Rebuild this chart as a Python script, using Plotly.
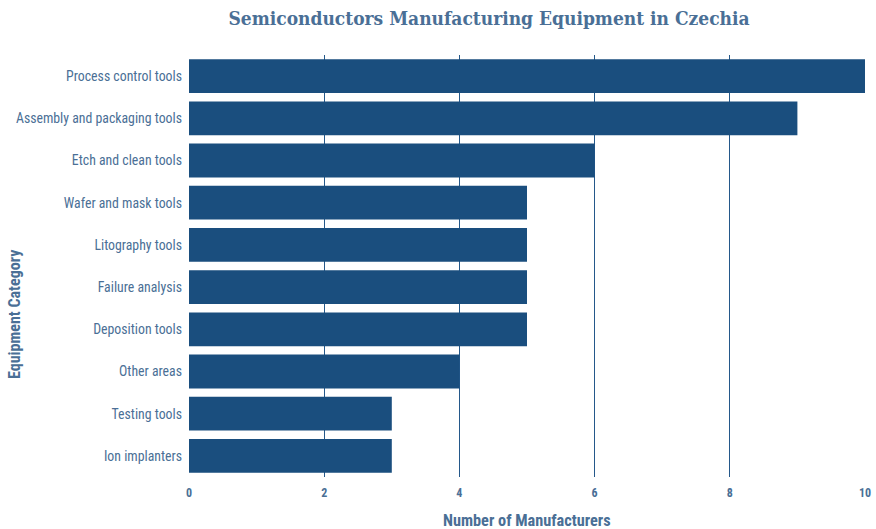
import plotly.graph_objects as go

categories = ["Process control tools", "Assembly and packaging tools", "Etch and clean tools",
              "Wafer and mask tools", "Litography tools", "Failure analysis", "Deposition tools",
              "Other areas", "Testing tools", "Ion implanters"]
values = [10, 9, 6, 5, 5, 5, 5, 4, 3, 3]
x_ticks = [0, 2, 4, 6, 8, 10]

bar_color = "#1a4e7e"
grid_color = "#24588a"
text_color = "#4a6f96"

L, R, T, B = 189, 11, 55, 52
W, H = 876, 529
pw, ph = W - L - R, H - T - B

fig = go.Figure(go.Bar(
    x=values, y=categories, orientation="h",
    marker=dict(color=bar_color, line=dict(width=0)),
))

fig.update_layout(
    width=W, height=H,
    margin=dict(l=L, r=R, t=T, b=B, autoexpand=False),
    paper_bgcolor="white", plot_bgcolor="white",
    bargap=0.2,
    showlegend=False,
    title=dict(text="<b>Semiconductors Manufacturing Equipment in Czechia</b>",
               x=489 / W, xanchor="center", y=1 - 18 / H, yanchor="middle",
               font=dict(family="Roboto Slab, DejaVu Serif Condensed, DejaVu Serif, serif",
                         size=19, color="#4a6f96")),
    font=dict(family="Roboto Condensed, Roboto, sans-serif", color=text_color),
    annotations=[
        dict(text="<b>Number of Manufacturers</b>", xref="paper", yref="paper",
             x=(527 - L) / pw, y=(H - B - 520) / ph, xanchor="center", yanchor="middle",
             showarrow=False, font=dict(size=16.3, color=text_color)),
        dict(text="<b>Equipment Category</b>", xref="paper", yref="paper",
             x=(15 - L) / pw, y=(H - B - 315) / ph, xanchor="center", yanchor="middle",
             textangle=-90, showarrow=False, font=dict(size=16, color=text_color)),
    ],
)

fig.update_xaxes(
    range=[0, 10], tickvals=x_ticks, ticktext=[f"<b>{v}</b>" for v in x_ticks],
    showgrid=True, gridcolor=grid_color, gridwidth=1,
    zeroline=False, showline=False, ticks="", automargin=False,
    ticklabelstandoff=7,
    tickfont=dict(size=12, color=text_color),
)
fig.update_yaxes(
    categoryorder="array", categoryarray=categories, autorange="reversed",
    showgrid=False, zeroline=False, showline=False, ticks="", automargin=False,
    ticklabelstandoff=6,
    tickfont=dict(size=13.8, color=text_color),
)

fig.write_html("out.html")
